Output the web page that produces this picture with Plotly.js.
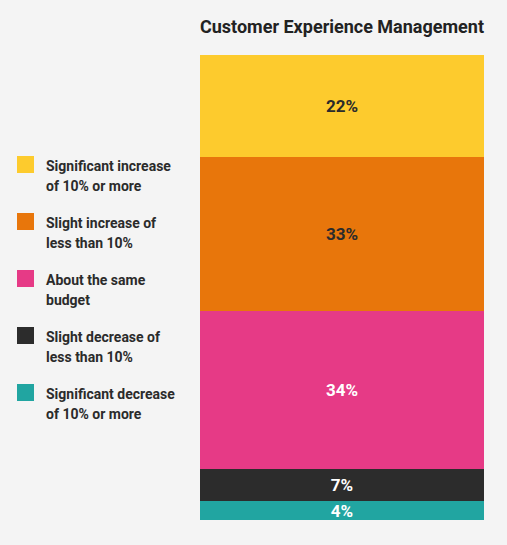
<!DOCTYPE html>
<html>
<head>
<meta charset="utf-8">
<script src="https://cdn.plot.ly/plotly-3.0.1.min.js"></script>
<style>
html,body{margin:0;padding:0;background:#f4f4f4;}
#chart{width:507px;height:545px;}
</style>
</head>
<body>
<div id="chart"></div>
<script>
// Data (bottom to top of the stack)
const category = ['Customer Experience Management'];
const seriesNames = [
  'Significant decrease<br>of 10% or more',
  'Slight decrease of<br>less than 10%',
  'About the same<br>budget',
  'Slight increase of<br>less than 10%',
  'Significant increase<br>of 10% or more'
];
const seriesValues = [4, 7, 34, 33, 22];
const seriesColors = ['#21a5a1', '#2c2c2c', '#e63a86', '#e8760b', '#fdcb2d'];
const labelColors = ['#ffffff', '#ffffff', '#ffffff', '#2b2b2b', '#2b2b2b'];

const W = 507, H = 545;
const L = 200, R = 23, T = 55, B = 25;
const pw = W - L - R, ph = H - T - B;
const px = x => (x - L) / pw;
const py = y => (H - B - y) / ph;

const traces = seriesValues.map((v, i) => ({
  type: 'bar',
  x: category,
  y: [v],
  name: seriesNames[i],
  marker: {color: seriesColors[i], line: {width: 0}},
  text: [v + '%'],
  textposition: 'inside',
  insidetextanchor: 'middle',
  constraintext: 'none',
  textfont: {family: 'Roboto', size: 17, color: labelColors[i], weight: 700},
  hoverinfo: 'skip',
  showlegend: false
}));

// custom legend, top to bottom (reverse of stack order)
const shapes = [];
const annotations = [];
const sq = 17, gap = 57, top0 = 156;
const order = [4, 3, 2, 1, 0];
order.forEach((idx, k) => {
  const y0 = top0 + k * gap;
  shapes.push({
    type: 'rect', xref: 'paper', yref: 'paper',
    x0: px(17), x1: px(17 + sq), y0: py(y0), y1: py(y0 + sq),
    fillcolor: seriesColors[idx], line: {width: 0}
  });
  const lines = seriesNames[idx].split('<br>');
  lines.forEach((ln, j) => {
    annotations.push({
      xref: 'paper', yref: 'paper',
      x: px(44), y: py(y0 + 10 + j * 20),
      xanchor: 'left', yanchor: 'middle',
      text: ln, showarrow: false,
      font: {family: 'Roboto', size: 14, color: '#2b2b2b', weight: 700}
    });
  });
});

const layout = {
  width: W, height: H,
  margin: {l: L, r: R, t: T, b: B, pad: 0},
  paper_bgcolor: '#f4f4f4',
  plot_bgcolor: '#f4f4f4',
  barmode: 'stack',
  bargap: 0,
  title: {
    text: 'Customer Experience Management',
    x: 0.5, xref: 'paper', xanchor: 'center',
    y: 1 - 27 / H, yref: 'container', yanchor: 'middle',
    font: {family: 'Roboto', size: 18, color: '#222222', weight: 700}
  },
  xaxis: {visible: false, showgrid: false, zeroline: false},
  yaxis: {visible: false, range: [0, 100], showgrid: false, zeroline: false},
  showlegend: false,
  shapes: shapes,
  annotations: annotations
};

Plotly.newPlot('chart', traces, layout, {displayModeBar: false, staticPlot: true});
</script>
</body>
</html>
